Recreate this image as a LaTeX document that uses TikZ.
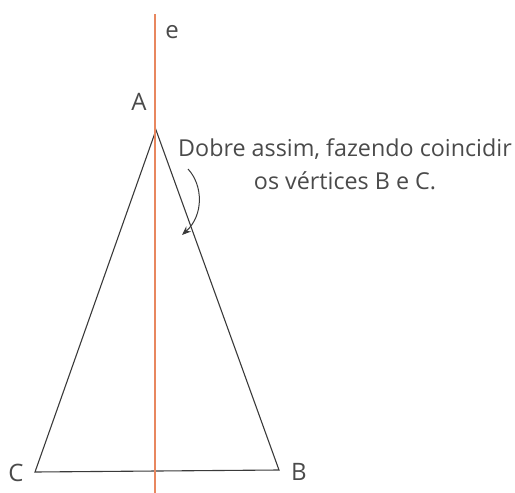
\documentclass[tikz,border=0pt]{standalone}
\usepackage{fontspec}
\setmainfont{Open Sans}
\usetikzlibrary{arrows.meta}
\definecolor{foldorange}{HTML}{E8875F}
\definecolor{inkgray}{HTML}{3A3A3A}
\definecolor{textgray}{HTML}{4A4A4A}
\begin{document}
\begin{tikzpicture}[x=1pt,y=-1pt,
  side/.style={draw=inkgray,line width=1.1pt,line join=miter},
  axis/.style={draw=foldorange,line width=2pt},
  lbl/.style={font=\fontsize{24}{28}\selectfont, text=textgray, inner sep=0pt},
  note/.style={font=\fontsize{23.3}{33}\selectfont, text=textgray, inner sep=0pt, align=center},
  foldarrow/.style={draw=inkgray,line width=1pt,-{Stealth[length=9pt,width=7pt]}}]
\useasboundingbox (0,0) rectangle (515,493);
\coordinate (A) at (156,130);
\coordinate (B) at (279,470);
\coordinate (C) at (35,472);
\coordinate (eTop) at (155,14);
\coordinate (eBot) at (155,493);
\draw[side] (C) -- (A) -- (B) -- cycle;
\draw[axis] (eTop) -- (eBot);
\node[lbl] (labA) at (139,102) {A};
\node[lbl] (labB) at (299,472) {B};
\node[lbl] (labC) at (16,473) {C};
\node[lbl] (labE) at (172,32) {e};
\node[note] (txt) at (345,164) {Dobre assim, fazendo coincidir\\os vértices B e C.};
\coordinate (arrS) at (188,169);
\coordinate (arrE) at (182,235);
\draw[foldarrow] (arrS) .. controls (203,185) and (204,215) .. (arrE);
\end{tikzpicture}
\end{document}
